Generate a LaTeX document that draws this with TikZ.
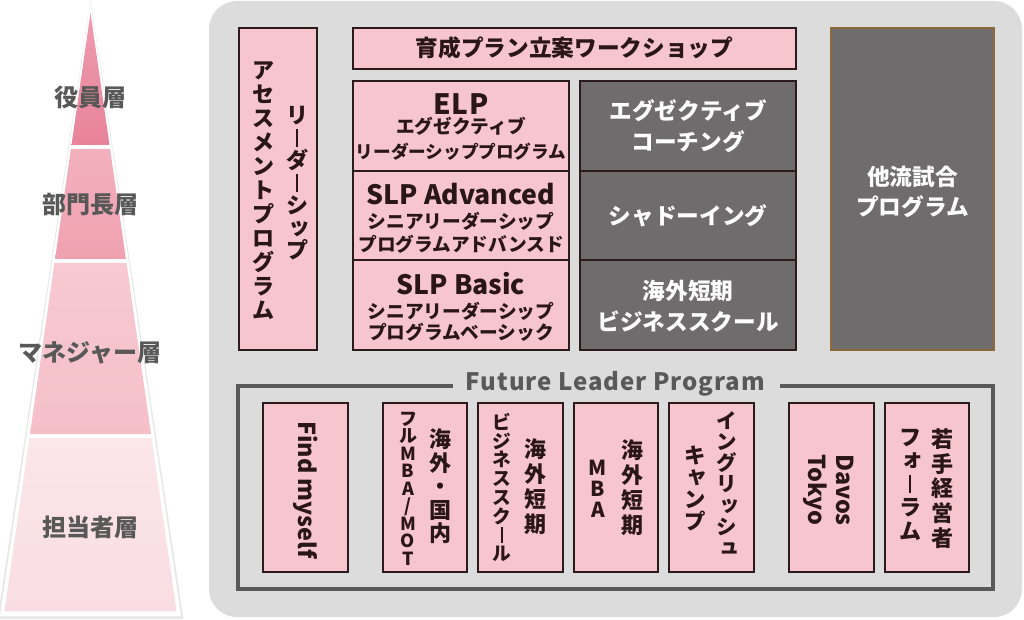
\documentclass[tikz,border=0pt]{standalone}
\usepackage{fontspec}
\setmainfont{Noto Sans CJK JP}
\usetikzlibrary{fit}
\definecolor{panel}{HTML}{DCDCDC}
\definecolor{pk}{HTML}{F7C5CE}
\definecolor{bd}{HTML}{2B1B1D}
\definecolor{dk}{HTML}{6E6C6D}
\definecolor{frm}{HTML}{595959}
\definecolor{tx}{HTML}{2A1617}
\definecolor{lab}{HTML}{585858}
\definecolor{gold}{HTML}{8C6A3C}
\definecolor{t1a}{HTML}{EE9CAE}\definecolor{t1b}{HTML}{E8839A}
\definecolor{t2a}{HTML}{F3B0BD}\definecolor{t2b}{HTML}{F0A1B0}
\definecolor{t3a}{HTML}{F7C9D1}\definecolor{t3b}{HTML}{F5BFC8}
\definecolor{t4a}{HTML}{FBE6E9}\definecolor{t4b}{HTML}{F9DDE2}
\newcommand\fsz[1]{\fontsize{#1pt}{#1pt}\selectfont}
\newcommand\fszb[2]{\fontsize{#1pt}{#2pt}\selectfont}
% vertical (tategaki) stacking
\def\vpitch{20}
\newcommand\vcol[2]{\vbox{\offinterlineskip\def\vpitch{#1}\vcolA#2\relax}}
\def\vcolA#1{\ifx#1\relax\else\vchar{#1}\expandafter\vcolA\fi}
\def\vchar#1{\hbox to 1em{\hss\vglyph{#1}\hss\vrule height \dimexpr\vpitch pt*3/8+.38em\relax depth \dimexpr\vpitch pt*3/8-.38em\relax width 0pt}}
\def\vsmall#1{\smash{\raisebox{.09em}{\kern.12em#1\kern-.12em}}}
\def\vglyph#1{%
 \ifx#1ー\smash{\raisebox{-.04em}{\rule{.1em}{.84em}}}%
 \else\ifx#1ッ\vsmall{#1}%
 \else\ifx#1ャ\vsmall{#1}%
 \else\ifx#1ィ\vsmall{#1}%
 \else\ifx#1ュ\vsmall{#1}%
 \else\ifx#1ョ\vsmall{#1}%
 \else\ifx#1ォ\vsmall{#1}%
 \else\smash{#1}\fi\fi\fi\fi\fi\fi\fi}
\begin{document}
\begin{tikzpicture}[x=0.75pt,y=-0.75pt,
  pinkbox/.style={draw=bd, fill=pk, line width=1.2pt, inner sep=0pt},
  darkbox/.style={draw=bd, fill=dk, line width=1.2pt, inner sep=0pt},
  goldbox/.style={draw=gold, fill=dk, line width=0.9pt, inner sep=0pt},
  t/.style={inner sep=0pt, anchor=base, text=tx, font=\bfseries\fsz{14}},
  w/.style={t, text=white, font=\bfseries\fsz{17}},
  lt/.style={t, font=\bfseries\fsz{20}},
  vt/.style={inner sep=0pt, text=tx, font=\bfseries\fsz{16.5}},
  rt/.style={inner sep=0pt, text=tx, rotate=-90, font=\bfseries\fsz{17.5}},
  plab/.style={inner sep=0pt, anchor=base, text=lab, font=\bfseries\fsz{18}}]
\useasboundingbox (0,0) rectangle (1024,620);
% ---------- pyramid ----------
\fill[black!9] (90.5,-1) -- (-2.5,619) -- (183.5,619) -- cycle;
\fill[white] (90.5,1) -- (0,616) -- (181,616) -- cycle;
\shade[top color=t1a, bottom color=t1b] (90.5,13) -- (109.5,145) -- (71.5,145) -- cycle;
\shade[top color=t2a, bottom color=t2b] (70.9,149) -- (110.1,149) -- (125.9,259) -- (55.1,259) -- cycle;
\shade[top color=t3a, bottom color=t3b] (54.5,263) -- (126.5,263) -- (151,434) -- (30,434) -- cycle;
\shade[top color=t4a, bottom color=t4b] (29.4,438) -- (151.6,438) -- (176.5,611) -- (4.5,611) -- cycle;
\node[plab] (p1) at (90,107) {役員層};
\node[plab] (p2) at (90,214) {部門長層};
\node[plab] (p3) at (90,361) {マネジャー層};
\node[plab] (p4) at (90,536) {担当者層};
% ---------- panel ----------
\fill[panel, rounded corners=21pt] (209,1) rectangle (1022,617);
% ---------- upper boxes ----------
\node[pinkbox, fit={(239,28) (317,350)}] (ra) {};
\node[vt] (ra1) at (297,183) {\vcol{22.5}{リーダーシップ}};
\node[vt] (ra2) at (263,190) {\vcol{24}{アセスメントプログラム}};

\node[pinkbox, fit={(353,28) (796,69)}] (wsb) {};
\node[t, font=\bfseries\fsz{17}] (ws) at (574.5,57) {育成プラン立案ワークショップ};

\node[pinkbox, fit={(353,81) (569,171)}] (elp) {};
\node[t, font=\bfseries\fsz{21}\addfontfeature{LetterSpace=3}] (elp1) at (461,115) {ELP};
\node[t] (elp2) at (461,134) {エグゼクティブ};
\node[t, font=\bfseries\fsz{13.2}] (elp3) at (461,158.5) {リーダーシッププログラム};

\node[pinkbox, fit={(353,171) (569,260)}] (slpa) {};
\node[lt] (slpa1) at (461,205) {SLP Advanced};
\node[t] (slpa2) at (461,229) {シニアリーダーシップ};
\node[t] (slpa3) at (461,252) {プログラムアドバンスド};

\node[pinkbox, fit={(353,260) (569,350)}] (slpb) {};
\node[lt] (slpb1) at (461,295) {SLP Basic};
\node[t] (slpb2) at (461,318) {シニアリーダーシップ};
\node[t] (slpb3) at (461,339) {プログラムベーシック};

\node[darkbox, fit={(580,81) (796,171)}] (ec) {};
\node[w] (ec1) at (688,119.6) {エグゼクティブ};
\node[w] (ec2) at (688,150.6) {コーチング};
\node[darkbox, fit={(580,171) (796,260)}] (sh) {};
\node[w] (sh1) at (688,224.6) {シャドーイング};
\node[darkbox, fit={(580,260) (796,350)}] (bs) {};
\node[w] (bs1) at (688,299.6) {海外短期};
\node[w] (bs2) at (688,330.6) {ビジネススクール};

\node[goldbox, fit={(831,28) (994,350)}] (ta) {};
\node[w] (ta1) at (912.5,185.6) {他流試合};
\node[w] (ta2) at (912.5,215.6) {プログラム};
% ---------- Future Leader Program ----------
\node[inner sep=0pt, anchor=base, text=frm, font=\bfseries\fsz{18}\addfontfeature{LetterSpace=4}] (flp) at (615.5,390) {Future Leader Program};
\coordinate (fa) at (453,386);
\coordinate (fb) at (780,386);
\draw[frm, line width=2.3pt] (fa) -- (238,386) -- (238,589) -- (993,589) -- (993,386) -- (fb);

\node[pinkbox, fit={(263,403) (348,572)}] (b1) {};
\node[rt] (b1t) at (305.5,490) {Find myself};

\node[pinkbox, fit={(383,403) (467,572)}] (b2) {};
\node[vt] (b2a) at (440,486.5) {\vcol{23.5}{海外・国内}};
\node[vt, font=\bfseries\fsz{13.5}] (b2b) at (408,488.5) {\vcol{17.5}{フルMBA/MOT}};

\node[pinkbox, fit={(478,403) (563,572)}] (b3) {};
\node[vt] (b3a) at (535,487) {\vcol{25}{海外短期}};
\node[vt, font=\bfseries\fsz{14}] (b3b) at (502,488) {\vcol{18.75}{ビジネススクール}};

\node[pinkbox, fit={(574,403) (658,572)}] (b4) {};
\node[vt] (b4a) at (632,487.5) {\vcol{25}{海外短期}};
\node[vt, font=\bfseries\fsz{15.5}] (b4b) at (598,489) {\vcol{21}{MBA}};

\node[pinkbox, fit={(669,403) (754,572)}] (b5) {};
\node[vt, font=\bfseries\fsz{15.3}] (b5a) at (727,484) {\vcol{21.2}{イングリッシュ}};
\node[vt, font=\bfseries\fsz{16}] (b5b) at (695,488.5) {\vcol{22}{キャンプ}};

\node[pinkbox, fit={(789,403) (874,572)}] (b6) {};
\node[rt, align=center, font=\bfseries\fszb{17.5}{21}] (b6t) at (829,490) {Davos\\Tokyo};

\node[pinkbox, fit={(885,403) (969,572)}] (b7) {};
\node[vt] (b7a) at (942,488.5) {\vcol{24.6}{若手経営者}};
\node[vt] (b7b) at (910,484) {\vcol{23.6}{フォーラム}};
\end{tikzpicture}
\end{document}
